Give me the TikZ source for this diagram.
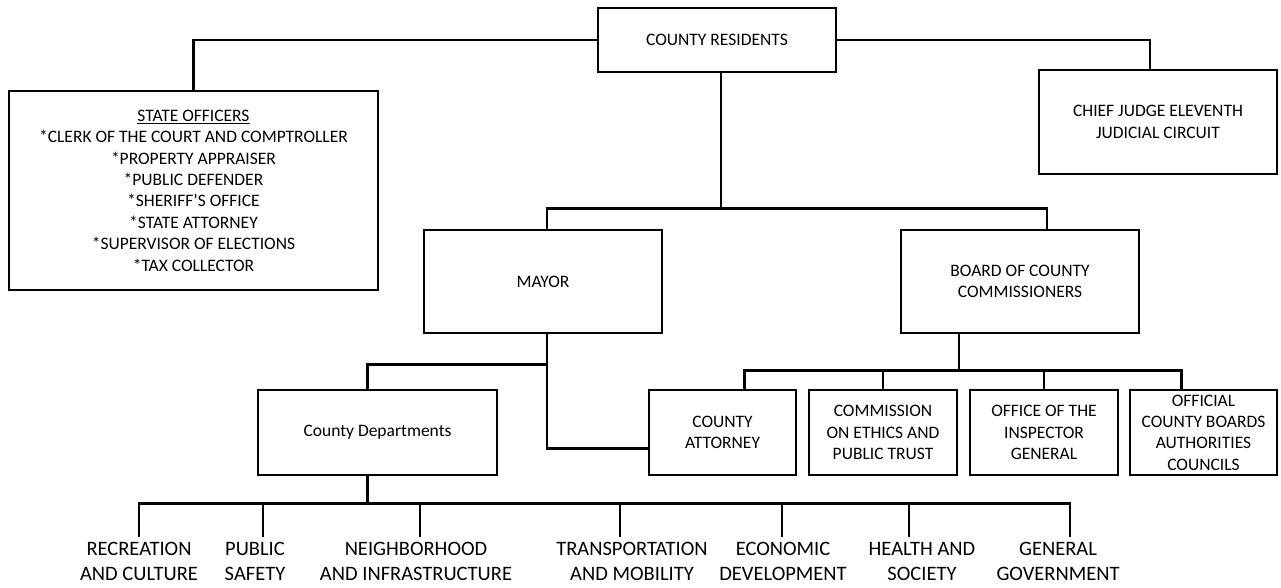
\documentclass[tikz,border=0pt]{standalone}
\usepackage{fontspec}
\setmainfont{Carlito}
\usepackage{tikz}

\begin{document}
\begin{tikzpicture}[x=1pt, y=1pt, line width=2.6pt,
  orgbox/.style={rectangle, draw, inner sep=0pt, align=center, font=\fontsize{17.5}{21.4}\selectfont},
  deptlabel/.style={inner sep=0pt, outer ysep=5pt, anchor=north, align=center, font=\fontsize{20.5}{25}\selectfont}]
\useasboundingbox (0,0) rectangle (1281,-587);

% top level
\node[orgbox, minimum width=238pt, minimum height=64pt] (res) at (717,-40) {COUNTY RESIDENTS};
\node[orgbox, minimum width=369pt, minimum height=199pt] (state) at (193.5,-190.5) {\underline{STATE OFFICERS}\\*CLERK OF THE COURT AND COMPTROLLER\\*PROPERTY APPRAISER\\*PUBLIC DEFENDER\\*SHERIFF’S OFFICE\\*STATE ATTORNEY\\*SUPERVISOR OF ELECTIONS\\*TAX COLLECTOR};
\node[orgbox, minimum width=238pt, minimum height=104pt] (chief) at (1158,-122) {CHIEF JUDGE ELEVENTH\\JUDICIAL CIRCUIT};

% second level
\node[orgbox, minimum width=238pt, minimum height=103pt] (mayor) at (543,-281.5) {MAYOR};
\node[orgbox, minimum width=238pt, minimum height=103pt] (board) at (1020,-281.5) {BOARD OF COUNTY\\COMMISSIONERS};

% third level
\node[orgbox, minimum width=239pt, minimum height=85pt] (cd) at (377.5,-432.5) {County Departments};
\node[orgbox, minimum width=147pt, minimum height=85pt] (att) at (722.5,-432.5) {COUNTY\\ATTORNEY};
\node[orgbox, minimum width=148pt, minimum height=85pt] (com) at (883,-432.5) {COMMISSION\\ON ETHICS AND\\PUBLIC TRUST};
\node[orgbox, minimum width=148pt, minimum height=85pt] (oig) at (1044,-432.5) {OFFICE OF THE\\INSPECTOR\\GENERAL};
\node[orgbox, minimum width=147pt, minimum height=85pt] (off) at (1203.5,-432.5) {OFFICIAL\\COUNTY BOARDS\\AUTHORITIES\\COUNCILS};

% departments
\node[deptlabel] (rec) at (139,-537) {RECREATION\\AND CULTURE};
\node[deptlabel] (pub) at (255,-537) {PUBLIC\\SAFETY};
\node[deptlabel] (nbh) at (416,-537) {NEIGHBORHOOD\\AND INFRASTRUCTURE};
\node[deptlabel] (trn) at (632,-537) {TRANSPORTATION\\AND MOBILITY};
\node[deptlabel] (eco) at (783,-537) {ECONOMIC\\DEVELOPMENT};
\node[deptlabel] (hea) at (922,-537) {HEALTH AND\\SOCIETY};
\node[deptlabel] (gen) at (1058,-537) {GENERAL\\GOVERNMENT};

% connectors
\draw (res.west) -| (state.north);
\draw (res.east) -| ([xshift=-8pt]chief.north);
\draw ([xshift=4pt]res.south) -- ++(0,-135) coordinate (resbus);
\draw ([xshift=4pt]mayor.north) |- (resbus) -| ([xshift=27pt]board.north);

\draw ([xshift=4pt]mayor.south) |- ([yshift=-16pt]att.west);
\draw ([xshift=-10pt]cd.north) |- ([xshift=4pt,yshift=-30pt]mayor.south);

\draw ([xshift=-61pt]board.south) -- ++(0,-36) coordinate (boardbus);
\foreach \n/\dx in {att/22, com/0, oig/0, off/-22}
  \draw (boardbus) -| ([xshift=\dx pt]\n.north);

\draw ([xshift=-10pt]cd.south) -- ++(0,-27) coordinate (cdbus);
\foreach \n/\dx in {rec/0, pub/8, nbh/4, trn/-12, eco/-1, hea/-13, gen/12}
  \draw (cdbus) -| ([xshift=\dx pt]\n.north);
\end{tikzpicture}
\end{document}
